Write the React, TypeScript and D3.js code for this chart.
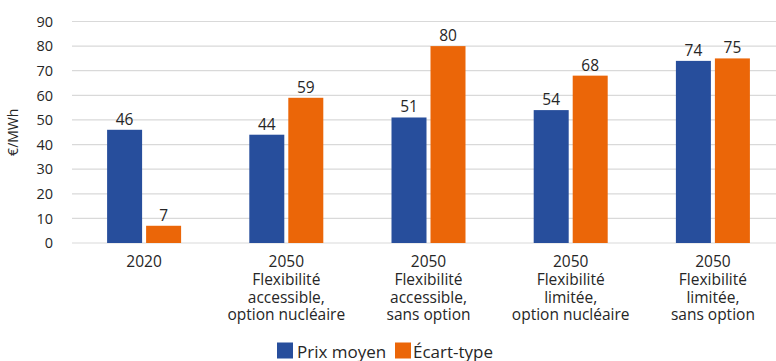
import React from "react";
import * as d3 from "d3";

const categories: string[][] = [
  ["2020"],
  ["2050", "Flexibilité", "accessible,", "option nucléaire"],
  ["2050", "Flexibilité", "accessible,", "sans option"],
  ["2050", "Flexibilité", "limitée,", "option nucléaire"],
  ["2050", "Flexibilité", "limitée,", "sans option"],
];
const prixMoyen = [46, 44, 51, 54, 74];
const ecartType = [7, 59, 80, 68, 75];
const seriesNames = ["Prix moyen", "Écart-type"];
const yTicks = [0, 10, 20, 30, 40, 50, 60, 70, 80, 90];

const W = 776;
const H = 361;
const colors = ["#274E9C", "#EB6608"];
const font = "'Open Sans', 'Noto Sans', sans-serif";

export default function App() {
  const x = d3
    .scaleBand<number>()
    .domain(categories.map((_, i) => i))
    .range([73, 784])
    .paddingInner(0)
    .paddingOuter(0);
  const y = d3.scaleLinear().domain([0, 90]).range([243, 21.5]);
  const barW = 35;
  const gap = 4;
  const series = [prixMoyen, ecartType];

  return (
    <div style={{ position: "absolute", left: 0, top: 0 }}>
      <svg width={W} height={H} style={{ display: "block", fontFamily: font }}>
        <rect width={W} height={H} fill="#ffffff" />
        {yTicks.map((t) => (
          <g key={t}>
            <line x1={72} x2={W} y1={y(t)} y2={y(t)} stroke="#d9d9d9" strokeWidth={1.2} />
            <text
              x={53}
              y={y(t)}
              dy="0.36em"
              textAnchor="end"
              fontSize={14.5}
              fill="#262626"
            >
              {t}
            </text>
          </g>
        ))}
        <text
          transform={`translate(18,${(y(0) + y(90)) / 2}) rotate(-90)`}
          textAnchor="middle"
          fontSize={14}
          fill="#262626"
        >
          €/MWh
        </text>
        {categories.map((lines, i) => {
          const cx = (x(i) as number) + x.bandwidth() / 2;
          return (
            <g key={i}>
              {series.map((vals, s) => {
                const bx = s === 0 ? cx - gap / 2 - barW : cx + gap / 2;
                return (
                  <g key={s}>
                    <rect
                      x={bx}
                      y={y(vals[i])}
                      width={barW}
                      height={y(0) - y(vals[i])}
                      fill={colors[s]}
                    />
                    <text
                      x={bx + barW / 2}
                      y={y(vals[i]) - 5}
                      textAnchor="middle"
                      fontSize={15.5}
                      fill="#262626"
                    >
                      {vals[i]}
                    </text>
                  </g>
                );
              })}
              <text textAnchor="middle" fontSize={15.5} fill="#262626">
                {lines.map((l, k) => (
                  <tspan key={k} x={cx} y={267 + k * 17.8}>
                    {l}
                  </tspan>
                ))}
              </text>
            </g>
          );
        })}
        <g>
          <rect x={277} y={342.5} width={16} height={16} fill={colors[0]} />
          <text x={297} y={357.5} fontSize={17} fill="#262626">
            {seriesNames[0]}
          </text>
          <rect x={395} y={342.5} width={16} height={16} fill={colors[1]} />
          <text x={413} y={357.5} fontSize={17} fill="#262626">
            {seriesNames[1]}
          </text>
        </g>
      </svg>
    </div>
  );
}
